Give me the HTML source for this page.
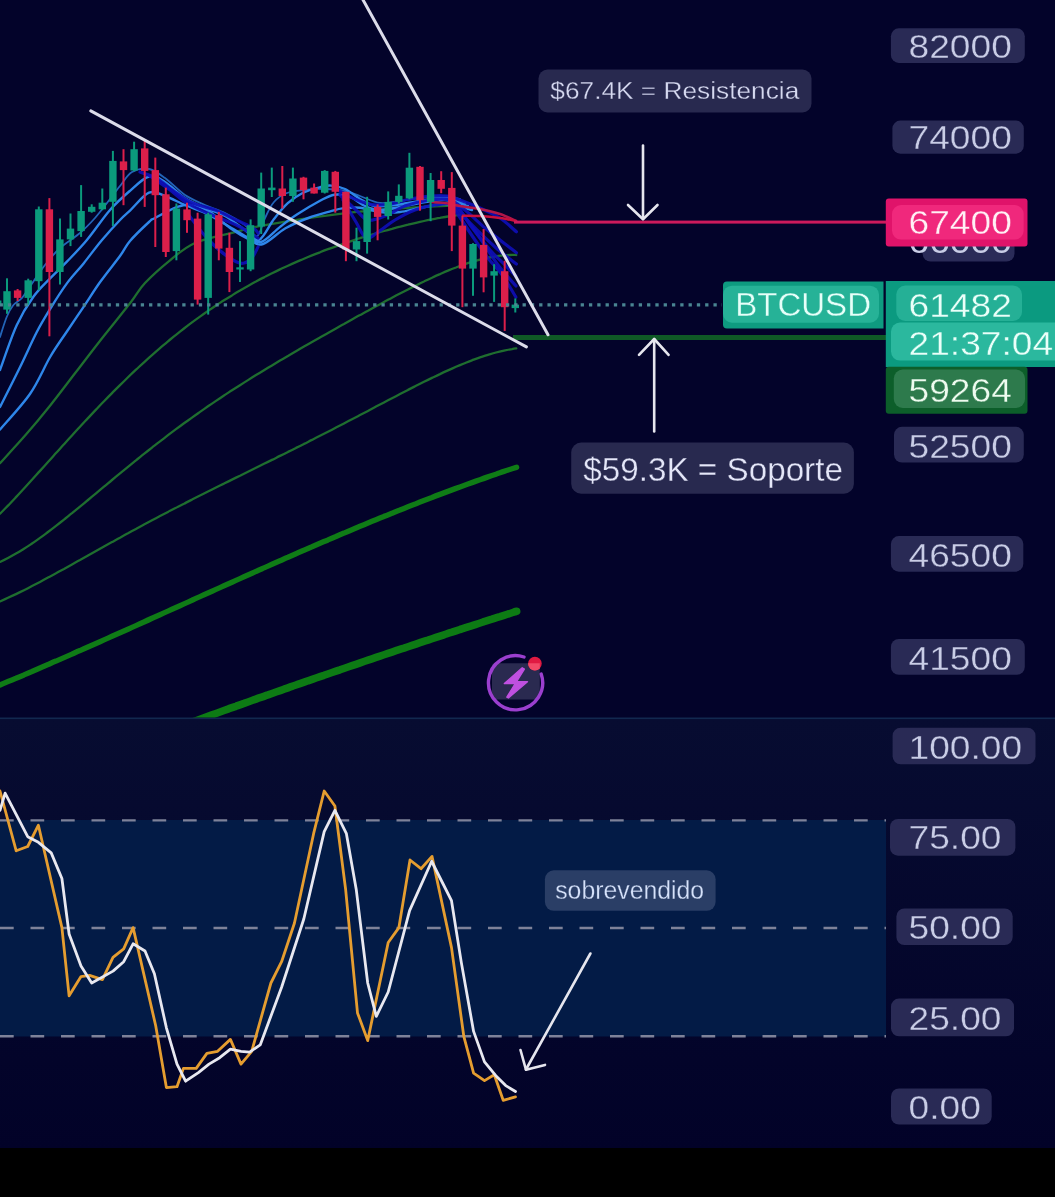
<!DOCTYPE html>
<html><head><meta charset="utf-8"><title>BTCUSD chart</title>
<style>
html,body{margin:0;padding:0;background:#03032a;}
body{width:1055px;height:1197px;overflow:hidden;}
svg{display:block;filter:blur(0.45px);font-family:"Liberation Sans","DejaVu Sans",sans-serif;}
</style></head><body>
<svg width="1055" height="1197" viewBox="0 0 1055 1197">
<rect x="0" y="0" width="1055" height="719" fill="#03032a"/>
<linearGradient id="og" x1="0" y1="0" x2="0" y2="1"><stop offset="0" stop-color="#070c31"/><stop offset="1" stop-color="#020228"/></linearGradient>
<rect x="0" y="719" width="1055" height="429" fill="url(#og)"/>
<rect x="0" y="820" width="886" height="216.5" fill="#031b46"/>
<rect x="0" y="1148" width="1055" height="49" fill="#000"/>
<rect x="0" y="717.5" width="1055" height="1.6" fill="#12284f"/>
<clipPath id="mc"><rect x="0" y="0" width="1055" height="717.5"/></clipPath>
<g clip-path="url(#mc)">
<path d="M188,723.6 C189.3,723.1 193.3,721.7 196,720.7 C198.7,719.7 201.3,718.8 204,717.8 C206.7,716.8 209.3,715.9 212,714.9 C214.7,713.9 217.3,713 220,712 C222.7,711 225.3,710.1 228,709.1 C230.7,708.2 233.3,707.2 236,706.3 C238.7,705.3 241.3,704.3 244,703.4 C246.7,702.4 249.3,701.5 252,700.5 C254.7,699.6 257.3,698.6 260,697.7 C262.7,696.8 265.3,695.8 268,694.9 C270.7,693.9 273.3,693 276,692 C278.7,691.1 281.3,690.2 284,689.2 C286.7,688.3 289.3,687.3 292,686.4 C294.7,685.5 297.3,684.5 300,683.6 C302.7,682.7 305.3,681.8 308,680.8 C310.7,679.9 313.3,679 316,678 C318.7,677.1 321.3,676.2 324,675.3 C326.7,674.3 329.3,673.4 332,672.5 C334.7,671.6 337.3,670.7 340,669.8 C342.7,668.8 345.3,667.9 348,667 C350.7,666.1 353.3,665.2 356,664.3 C358.7,663.4 361.3,662.5 364,661.5 C366.7,660.6 369.3,659.7 372,658.8 C374.7,657.9 377.3,657 380,656.1 C382.7,655.2 385.3,654.3 388,653.4 C390.7,652.5 393.3,651.6 396,650.7 C398.7,649.8 401.3,648.9 404,648.1 C406.7,647.2 409.3,646.3 412,645.4 C414.7,644.5 417.3,643.6 420,642.7 C422.7,641.8 425.3,640.9 428,640.1 C430.7,639.2 433.3,638.3 436,637.4 C438.7,636.5 441.3,635.7 444,634.8 C446.7,633.9 449.3,633 452,632.2 C454.7,631.3 457.3,630.4 460,629.5 C462.7,628.7 465.3,627.8 468,626.9 C470.7,626.1 473.3,625.2 476,624.3 C478.7,623.5 481.3,622.6 484,621.7 C486.7,620.9 489.3,620 492,619.2 C494.7,618.3 497.3,617.4 500,616.6 C502.7,615.7 505.3,614.9 508,614 C510.7,613.2 514.6,611.9 516,611.5 C517.4,611 516.5,611.3 516.6,611.3" fill="none" stroke="#0d7b14" stroke-width="7.6" stroke-linecap="round" stroke-linejoin="round" />
<path d="M0,685 C1.3,684.4 5.3,682.7 8,681.6 C10.7,680.5 13.3,679.4 16,678.3 C18.7,677.1 21.3,676 24,674.9 C26.7,673.7 29.3,672.6 32,671.5 C34.7,670.3 37.3,669.2 40,668 C42.7,666.9 45.3,665.7 48,664.6 C50.7,663.4 53.3,662.2 56,661.1 C58.7,659.9 61.3,658.8 64,657.6 C66.7,656.4 69.3,655.3 72,654.1 C74.7,652.9 77.3,651.7 80,650.6 C82.7,649.4 85.3,648.2 88,647 C90.7,645.8 93.3,644.7 96,643.5 C98.7,642.3 101.3,641.1 104,639.9 C106.7,638.7 109.3,637.5 112,636.3 C114.7,635.1 117.3,634 120,632.8 C122.7,631.6 125.3,630.4 128,629.2 C130.7,628 133.3,626.8 136,625.6 C138.7,624.4 141.3,623.2 144,622 C146.7,620.8 149.3,619.6 152,618.3 C154.7,617.1 157.3,615.9 160,614.7 C162.7,613.5 165.3,612.3 168,611.1 C170.7,609.9 173.3,608.7 176,607.5 C178.7,606.3 181.3,605.1 184,603.9 C186.7,602.7 189.3,601.5 192,600.3 C194.7,599 197.3,597.8 200,596.6 C202.7,595.4 205.3,594.2 208,593 C210.7,591.8 213.3,590.6 216,589.4 C218.7,588.2 221.3,587 224,585.8 C226.7,584.6 229.3,583.4 232,582.2 C234.7,581 237.3,579.8 240,578.6 C242.7,577.4 245.3,576.2 248,575 C250.7,573.8 253.3,572.6 256,571.4 C258.7,570.3 261.3,569.1 264,567.9 C266.7,566.7 269.3,565.5 272,564.3 C274.7,563.1 277.3,562 280,560.8 C282.7,559.6 285.3,558.4 288,557.3 C290.7,556.1 293.3,554.9 296,553.7 C298.7,552.6 301.3,551.4 304,550.2 C306.7,549.1 309.3,547.9 312,546.8 C314.7,545.6 317.3,544.5 320,543.3 C322.7,542.2 325.3,541 328,539.9 C330.7,538.7 333.3,537.6 336,536.5 C338.7,535.3 341.3,534.2 344,533.1 C346.7,531.9 349.3,530.8 352,529.7 C354.7,528.6 357.3,527.4 360,526.3 C362.7,525.2 365.3,524.1 368,523 C370.7,521.9 373.3,520.8 376,519.7 C378.7,518.6 381.3,517.5 384,516.4 C386.7,515.4 389.3,514.3 392,513.2 C394.7,512.1 397.3,511 400,510 C402.7,508.9 405.3,507.9 408,506.8 C410.7,505.7 413.3,504.7 416,503.7 C418.7,502.6 421.3,501.6 424,500.5 C426.7,499.5 429.3,498.5 432,497.5 C434.7,496.4 437.3,495.4 440,494.4 C442.7,493.4 445.3,492.4 448,491.4 C450.7,490.4 453.3,489.4 456,488.4 C458.7,487.4 461.3,486.5 464,485.5 C466.7,484.5 469.3,483.6 472,482.6 C474.7,481.6 477.3,480.7 480,479.7 C482.7,478.8 485.3,477.9 488,476.9 C490.7,476 493.3,475.1 496,474.2 C498.7,473.3 501.3,472.3 504,471.4 C506.7,470.5 509.9,469.5 512,468.8 C514.1,468.1 515.8,467.5 516.6,467.3" fill="none" stroke="#0f7c16" stroke-width="5.4" stroke-linecap="round" stroke-linejoin="round" />
<path d="M0,601.4 C1.3,600.8 5.3,599 8,597.8 C10.7,596.6 13.3,595.4 16,594.1 C18.7,592.8 21.3,591.5 24,590.2 C26.7,588.8 29.3,587.5 32,586.1 C34.7,584.7 37.3,583.3 40,581.9 C42.7,580.5 45.3,579.1 48,577.6 C50.7,576.2 53.3,574.7 56,573.3 C58.7,571.8 61.3,570.3 64,568.9 C66.7,567.4 69.3,565.9 72,564.4 C74.7,562.9 77.3,561.4 80,560 C82.7,558.5 85.3,557 88,555.5 C90.7,554 93.3,552.5 96,551 C98.7,549.5 101.3,548 104,546.5 C106.7,545 109.3,543.6 112,542.1 C114.7,540.6 117.3,539.1 120,537.7 C122.7,536.2 125.3,534.7 128,533.3 C130.7,531.8 133.3,530.4 136,528.9 C138.7,527.5 141.3,526 144,524.6 C146.7,523.2 149.3,521.8 152,520.3 C154.7,518.9 157.3,517.5 160,516.1 C162.7,514.7 165.3,513.3 168,511.9 C170.7,510.5 173.3,509.1 176,507.8 C178.7,506.4 181.3,505 184,503.7 C186.7,502.3 189.3,500.9 192,499.6 C194.7,498.2 197.3,496.9 200,495.5 C202.7,494.2 205.3,492.9 208,491.5 C210.7,490.2 213.3,488.9 216,487.5 C218.7,486.2 221.3,484.9 224,483.6 C226.7,482.2 229.3,480.9 232,479.6 C234.7,478.3 237.3,477 240,475.7 C242.7,474.3 245.3,473 248,471.7 C250.7,470.4 253.3,469.1 256,467.8 C258.7,466.5 261.3,465.2 264,463.8 C266.7,462.5 269.3,461.2 272,459.9 C274.7,458.6 277.3,457.2 280,455.9 C282.7,454.6 285.3,453.3 288,451.9 C290.7,450.6 293.3,449.3 296,447.9 C298.7,446.6 301.3,445.3 304,443.9 C306.7,442.6 309.3,441.2 312,439.9 C314.7,438.5 317.3,437.2 320,435.8 C322.7,434.4 325.3,433.1 328,431.7 C330.7,430.3 333.3,429 336,427.6 C338.7,426.2 341.3,424.8 344,423.4 C346.7,422 349.3,420.6 352,419.2 C354.7,417.9 357.3,416.5 360,415.1 C362.7,413.7 365.3,412.3 368,410.9 C370.7,409.5 373.3,408 376,406.6 C378.7,405.2 381.3,403.8 384,402.4 C386.7,401 389.3,399.6 392,398.2 C394.7,396.8 397.3,395.5 400,394.1 C402.7,392.7 405.3,391.3 408,389.9 C410.7,388.6 413.3,387.2 416,385.8 C418.7,384.5 421.3,383.2 424,381.8 C426.7,380.5 429.3,379.2 432,377.9 C434.7,376.6 437.3,375.3 440,374.1 C442.7,372.8 445.3,371.6 448,370.4 C450.7,369.2 453.3,368 456,366.8 C458.7,365.7 461.3,364.6 464,363.5 C466.7,362.4 469.3,361.3 472,360.3 C474.7,359.3 477.3,358.3 480,357.4 C482.7,356.5 485.3,355.6 488,354.8 C490.7,354 493.3,353.2 496,352.5 C498.7,351.8 501.3,351.2 504,350.6 C506.7,350 509.9,349.4 512,349.1 C514,348.7 515.6,348.5 516.3,348.4" fill="none" stroke="#1f6e2f" stroke-width="2.3" stroke-linecap="round" stroke-linejoin="round" />
<path d="M0,561.9 C1.3,561.3 5.3,559.4 8,558 C10.7,556.6 13.3,555.2 16,553.6 C18.7,552.1 21.3,550.4 24,548.7 C26.7,547.1 29.3,545.3 32,543.5 C34.7,541.7 37.3,539.8 40,537.9 C42.7,536 45.3,534 48,532 C50.7,530 53.3,528 56,525.9 C58.7,523.8 61.3,521.7 64,519.6 C66.7,517.5 69.3,515.3 72,513.2 C74.7,511 77.3,508.8 80,506.6 C82.7,504.4 85.3,502.2 88,500 C90.7,497.8 93.3,495.6 96,493.4 C98.7,491.1 101.3,488.9 104,486.7 C106.7,484.5 109.3,482.2 112,480 C114.7,477.8 117.3,475.6 120,473.4 C122.7,471.2 125.3,469 128,466.8 C130.7,464.7 133.3,462.5 136,460.3 C138.7,458.2 141.3,456 144,453.9 C146.7,451.8 149.3,449.7 152,447.6 C154.7,445.5 157.3,443.4 160,441.4 C162.7,439.3 165.3,437.3 168,435.2 C170.7,433.2 173.3,431.2 176,429.2 C178.7,427.2 181.3,425.3 184,423.3 C186.7,421.4 189.3,419.5 192,417.6 C194.7,415.6 197.3,413.8 200,411.9 C202.7,410 205.3,408.2 208,406.3 C210.7,404.5 213.3,402.7 216,400.9 C218.7,399.1 221.3,397.3 224,395.5 C226.7,393.8 229.3,392 232,390.3 C234.7,388.6 237.3,386.9 240,385.2 C242.7,383.5 245.3,381.8 248,380.1 C250.7,378.4 253.3,376.8 256,375.1 C258.7,373.5 261.3,371.9 264,370.2 C266.7,368.6 269.3,367 272,365.4 C274.7,363.8 277.3,362.2 280,360.6 C282.7,359.1 285.3,357.5 288,355.9 C290.7,354.4 293.3,352.8 296,351.2 C298.7,349.7 301.3,348.2 304,346.6 C306.7,345.1 309.3,343.6 312,342 C314.7,340.5 317.3,339 320,337.5 C322.7,336 325.3,334.4 328,332.9 C330.7,331.4 333.3,329.9 336,328.4 C338.7,326.9 341.3,325.4 344,324 C346.7,322.5 349.3,321 352,319.5 C354.7,318 357.3,316.5 360,315.1 C362.7,313.6 365.3,312.1 368,310.7 C370.7,309.2 373.3,307.8 376,306.3 C378.7,304.9 381.3,303.4 384,302 C386.7,300.6 389.3,299.1 392,297.7 C394.7,296.3 397.3,294.9 400,293.5 C402.7,292.1 405.3,290.8 408,289.4 C410.7,288 413.3,286.7 416,285.4 C418.7,284 421.3,282.7 424,281.5 C426.7,280.2 429.3,278.9 432,277.7 C434.7,276.4 437.3,275.2 440,274.1 C442.7,272.9 445.3,271.7 448,270.6 C450.7,269.5 453.3,268.5 456,267.5 C458.7,266.4 461.3,265.4 464,264.5 C466.7,263.6 469.3,262.7 472,261.9 C474.7,261.1 477.3,260.3 480,259.6 C482.7,258.9 485.3,258.3 488,257.7 C490.7,257.2 493.3,256.7 496,256.3 C498.7,255.9 501.3,255.5 504,255.3 C506.7,255.1 509.9,255 512,254.9 C514,254.9 515.6,255 516.3,255" fill="none" stroke="#1f6e2f" stroke-width="2.3" stroke-linecap="round" stroke-linejoin="round" />
<path d="M0,513.8 C1.3,512.5 5.3,508.4 8,505.6 C10.7,502.8 13.3,500 16,497.1 C18.7,494.3 21.3,491.4 24,488.5 C26.7,485.6 29.3,482.7 32,479.7 C34.7,476.8 37.3,473.8 40,470.9 C42.7,467.9 45.3,465 48,462 C50.7,459.1 53.3,456.1 56,453.1 C58.7,450.2 61.3,447.2 64,444.3 C66.7,441.3 69.3,438.4 72,435.5 C74.7,432.6 77.3,429.6 80,426.7 C82.7,423.9 85.3,421 88,418.1 C90.7,415.3 93.3,412.4 96,409.6 C98.7,406.8 101.3,404 104,401.3 C106.7,398.5 109.3,395.8 112,393.1 C114.7,390.4 117.3,387.7 120,385.1 C122.7,382.5 125.3,379.9 128,377.3 C130.7,374.7 133.3,372.2 136,369.7 C138.7,367.2 141.3,364.7 144,362.3 C146.7,359.8 149.3,357.4 152,355.1 C154.7,352.7 157.3,350.4 160,348.1 C162.7,345.8 165.3,343.5 168,341.3 C170.7,339.1 173.3,336.9 176,334.8 C178.7,332.7 181.3,330.6 184,328.5 C186.7,326.4 189.3,324.4 192,322.4 C194.7,320.4 197.3,318.5 200,316.6 C202.7,314.7 205.3,312.8 208,310.9 C210.7,309.1 213.3,307.3 216,305.5 C218.7,303.8 221.3,302 224,300.3 C226.7,298.6 229.3,297 232,295.4 C234.7,293.7 237.3,292.1 240,290.6 C242.7,289 245.3,287.5 248,286 C250.7,284.5 253.3,283 256,281.6 C258.7,280.1 261.3,278.7 264,277.4 C266.7,276 269.3,274.6 272,273.3 C274.7,272 277.3,270.7 280,269.4 C282.7,268.2 285.3,266.9 288,265.7 C290.7,264.5 293.3,263.3 296,262.1 C298.7,261 301.3,259.8 304,258.7 C306.7,257.6 309.3,256.5 312,255.4 C314.7,254.3 317.3,253.3 320,252.3 C322.7,251.2 325.3,250.2 328,249.2 C330.7,248.2 333.3,247.2 336,246.3 C338.7,245.3 341.3,244.4 344,243.5 C346.7,242.6 349.3,241.7 352,240.8 C354.7,239.9 357.3,239 360,238.2 C362.7,237.3 365.3,236.5 368,235.7 C370.7,234.9 373.3,234.1 376,233.3 C378.7,232.5 381.3,231.7 384,231 C386.7,230.2 389.3,229.5 392,228.8 C394.7,228 397.3,227.3 400,226.7 C402.7,226 405.3,225.3 408,224.7 C410.7,224 413.3,223.4 416,222.8 C418.7,222.2 421.3,221.6 424,221 C426.7,220.4 429.3,219.9 432,219.4 C434.7,218.9 437.3,218.3 440,217.9 C442.7,217.4 445.3,216.9 448,216.5 C450.7,216.1 454,215.6 456,215.3 C458,215.1 459.3,214.9 460,214.8" fill="none" stroke="#1f6e2f" stroke-width="2.3" stroke-linecap="round" stroke-linejoin="round" />
<path d="M0,463.2 C4.2,458.6 16.7,445.2 25.1,435.6 C33.5,426 41.8,416 50.2,405.5 C58.6,395 67,383.7 75.4,372.8 C83.8,361.9 91.3,351.9 100.5,340.2 C109.7,328.5 123.2,312 130.6,302.5 C138,293 138.4,290 145,283 C151.6,276 161.7,267 170,260.3 C178.3,253.6 184.5,247.6 195,243 C205.5,238.4 221.3,235.7 233,232.7 C244.7,229.7 247.2,228.2 265,225.1 C282.8,221.9 317.5,216.6 340,213.8 C362.5,211 382.2,209.6 400,208.3 C417.8,207 437.3,206.2 447,205.9 C456.7,205.6 456.2,206.4 458,206.5" fill="none" stroke="#1f6e2f" stroke-width="2.3" stroke-linecap="round" stroke-linejoin="round" />
<path d="M0,337 C1.1,333.7 4.5,322.3 6.7,317 C8.9,311.7 10.8,308.2 13.4,305 C16,301.8 19.1,301.3 22,298 C24.9,294.7 26.9,290.9 30.7,285.4 C34.5,279.9 40.1,271.2 45,265 C49.9,258.8 54.2,253.3 60,248 C65.8,242.7 74.2,238 80,233 C85.8,228 90.5,223 95,218 C99.5,213 102.8,208.3 107,203 C111.2,197.7 115.8,191.2 120,186 C124.2,180.8 127.2,174.8 132,172 C136.8,169.2 143.5,168 149,169 C154.5,170 159,173.7 165,178 C171,182.3 178.3,190.5 185,195 C191.7,199.5 198.3,202 205,205 C211.7,208 218.3,209.7 225,213 C231.7,216.3 239.7,221.2 245,225 C250.3,228.8 253.7,237.2 257,236 C260.3,234.8 262.2,223.7 265,218 C267.8,212.3 270.3,206.2 274,202 C277.7,197.8 281.8,195 287,193 C292.2,191 298.7,190.7 305,190 C311.3,189.3 318.3,188.8 325,189 C331.7,189.2 339.2,189.8 345,191 C350.8,192.2 354.2,194 360,196 C365.8,198 373.3,202.2 380,203 C386.7,203.8 393.3,201.8 400,201 C406.7,200.2 412.5,198.8 420,198 C427.5,197.2 438.3,195.8 445,196 C451.7,196.2 457.5,198.5 460,199" fill="none" stroke="#2e86ea" stroke-width="1.8" stroke-linecap="round" stroke-linejoin="round" opacity="0.75"/>
<path d="M0,429.5 C5,423.5 21.8,405.8 30.1,393.7 C38.5,381.6 44,367.4 50.1,357 C56.2,346.6 61.3,339.9 66.9,331.5 C72.5,323.1 78,315.1 83.6,306.8 C89.2,298.5 94.2,290.3 100.3,281.8 C106.4,273.3 115,262.8 120,256 C125,249.2 125.2,246.7 130,241 C134.8,235.3 144.9,225.8 149,222 C153.1,218.2 149.9,220.7 154.6,218.2 C159.3,215.7 171.1,209.1 177.4,206.9 C183.7,204.7 187.2,204.2 192.6,205 C198,205.8 203.8,208.2 210,212 C216.2,215.8 223.3,223.3 230,228 C236.7,232.7 244.5,237.3 250,240 C255.5,242.7 257.1,245.9 263,244 C268.9,242.1 277.9,232.6 285.5,228.3 C293.1,224 300.7,220.8 308.3,218 C315.9,215.2 325.3,212.8 331,211.2 C336.7,209.6 337.6,209 342.4,208.4 C347.2,207.8 353.7,207.2 360,207.8 C366.3,208.4 373.3,211.3 380,212 C386.7,212.7 393.3,212.7 400,212 C406.7,211.3 412.5,209.3 420,208 C427.5,206.7 436.3,203.7 445,204 C453.7,204.3 467.5,209 472,210" fill="none" stroke="#2e86ea" stroke-width="2.4" stroke-linecap="round" stroke-linejoin="round" />
<path d="M0,407 C3.4,400.3 14,379.5 20.1,367 C26.2,354.5 31.8,341.7 36.8,332 C41.8,322.3 45.1,317.1 50.1,309 C55.1,300.9 61.3,291 66.9,283.4 C72.5,275.8 77.8,270.6 83.6,263.4 C89.4,256.2 95.9,247.2 102,240 C108.1,232.8 115.3,224.9 120,220 C124.7,215.1 125.2,215.2 130,210.7 C134.8,206.1 143.2,195.1 149,192.7 C154.8,190.2 159,193.9 165,196 C171,198.1 178.3,202.2 185,205 C191.7,207.8 198.3,209.8 205,213 C211.7,216.2 218.3,220.2 225,224 C231.7,227.8 239,233 245,236 C251,239 255.2,243.5 261,242 C266.8,240.5 273.8,231.7 279.8,227.1 C285.8,222.5 290.3,218.9 296.9,214.6 C303.5,210.2 313.4,204.3 319.6,201 C325.9,197.7 329.3,195.4 334.4,194.7 C339.5,194 344.9,195.1 350,197 C355.1,198.9 360,203.8 365,206 C370,208.2 374.2,209.8 380,210 C385.8,210.2 393.3,208.2 400,207 C406.7,205.8 412.5,204.2 420,203 C427.5,201.8 437,199.5 445,200 C453,200.5 464.2,205 468,206" fill="none" stroke="#2e86ea" stroke-width="2.4" stroke-linecap="round" stroke-linejoin="round" />
<path d="M0,370 C2.8,362.5 11.1,337.4 16.7,325.2 C22.3,313 27.8,304.6 33.4,296.8 C39,289 44.5,284.2 50.1,278.4 C55.7,272.5 60.8,268.1 66.9,261.7 C73,255.3 79.7,248.6 86.9,240 C94.1,231.4 102.8,218.2 110,210 C117.2,201.8 123.5,196.4 130,190.8 C136.5,185.2 143.2,178 149,176.5 C154.8,175 159,178.4 165,182 C171,185.6 178.3,193.7 185,198 C191.7,202.3 198.3,205 205,208 C211.7,211 218.3,212.3 225,216 C231.7,219.7 239.3,226 245,230 C250.7,234 254.2,241.8 259,240 C263.8,238.2 269.2,225.1 274,219 C278.8,212.9 283,207.5 287.8,203.2 C292.6,198.9 297.3,195.7 302.6,193 C307.9,190.3 314.9,188.5 319.6,187.3 C324.3,186.1 326.8,185.3 331,185.6 C335.2,185.9 340.2,186.8 345,189 C349.8,191.2 355,196.2 360,199 C365,201.8 369.2,205 375,206 C380.8,207 387.5,205.8 395,205 C402.5,204.2 411.7,202.2 420,201 C428.3,199.8 437.5,197.7 445,198 C452.5,198.3 461.7,202.2 465,203" fill="none" stroke="#2e86ea" stroke-width="2.4" stroke-linecap="round" stroke-linejoin="round" />
<path d="M140,172 C142.8,173.1 150.7,175.1 156.5,178.4 C162.3,181.7 169,187.9 175,192 C181,196.1 185.9,200 192.6,203 C199.3,206 208,207.2 215.3,210 C222.6,212.8 229.9,217 236.2,220 C242.5,223 249.6,225.8 253.2,228 C256.8,230.2 257.2,232.2 258,233" fill="none" stroke="#0e0eb8" stroke-width="3.2" stroke-linecap="round" stroke-linejoin="round" opacity="0.9"/>
<path d="M150,176 C153.3,178.3 163.8,185.5 170,190 C176.2,194.5 180.3,199 186.9,203 C193.5,207 201.4,210.3 209.6,214 C217.8,217.7 229.1,221.7 236.2,225 C243.3,228.3 248.4,231.8 252,234 C255.6,236.2 257,237.3 258,238" fill="none" stroke="#0e0eb8" stroke-width="3.2" stroke-linecap="round" stroke-linejoin="round" opacity="0.9"/>
<path d="M186.9,212.6 C190.7,217.3 201.4,232.8 209.6,241 C217.8,249.2 229.5,258.6 236.2,261.8 C242.9,265 246.4,262.5 250,260 C253.6,257.5 256.7,249.2 258,247" fill="none" stroke="#0e0eb8" stroke-width="3.2" stroke-linecap="round" stroke-linejoin="round" opacity="0.9"/>
<path d="M338,190 C341,191.6 350.3,197.1 356,199.5 C361.7,201.9 366.3,203.8 372,204.6 C377.7,205.3 383.7,204.9 390,204 C396.3,203.1 403.3,200.3 410,199 C416.7,197.7 423.7,196.5 430,196 C436.3,195.5 443,195.3 448,196 C453,196.7 454.7,198 460,200 C465.3,202 473.3,205 480,208 C486.7,211 493.9,214 500,218 C506.1,222 513.7,229.5 516.4,231.8" fill="none" stroke="#0e0eb8" stroke-width="3.2" stroke-linecap="round" stroke-linejoin="round" opacity="0.9"/>
<path d="M340,195 C342.7,197.5 351.3,205.8 356,210 C360.7,214.2 363.2,219 368,220 C372.8,221 378.8,218.3 385,216 C391.2,213.7 397.5,208.7 405,206 C412.5,203.3 422.5,201 430,200 C437.5,199 444.2,198.3 450,200 C455.8,201.7 459.2,205.3 465,210 C470.8,214.7 479.2,223 485,228 C490.8,233 494.8,235.9 500,240 C505.2,244.1 513.7,250.6 516.4,252.7" fill="none" stroke="#0e0eb8" stroke-width="3.2" stroke-linecap="round" stroke-linejoin="round" opacity="0.9"/>
<path d="M343,200 C345.2,203.7 352.2,215.7 356,222 C359.8,228.3 362.3,236.3 366,238 C369.7,239.7 373.2,235 378,232 C382.8,229 388.8,223.7 395,220 C401.2,216.3 408.3,212.5 415,210 C421.7,207.5 428.3,205.8 435,205 C441.7,204.2 449.2,201.7 455,205 C460.8,208.3 464.2,217.5 470,225 C475.8,232.5 484.2,243.3 490,250 C495.8,256.7 500.7,260.6 505,265 C509.3,269.4 514,274.2 515.8,276.1" fill="none" stroke="#0e0eb8" stroke-width="3.2" stroke-linecap="round" stroke-linejoin="round" opacity="0.9"/>
<path d="M455,210 C458.3,215 469.4,231.8 475,240 C480.6,248.2 484.5,253.6 488.7,258.9 C492.9,264.2 496.8,267.8 500,272 C503.2,276.2 505.4,279.8 508,284 C510.6,288.2 514.5,294.8 515.8,297" fill="none" stroke="#0e0eb8" stroke-width="3.2" stroke-linecap="round" stroke-linejoin="round" opacity="0.9"/>
<path d="M452,205 C455.8,208.8 467.8,221 475,228 C482.2,235 488.1,241 495,247 C501.9,253 512.8,261.2 516.4,264" fill="none" stroke="#0e0eb8" stroke-width="3.2" stroke-linecap="round" stroke-linejoin="round" opacity="0.9"/>
<path d="M460,210 C463.3,214.7 473.7,228.8 480,238 C486.3,247.2 492,257 498,265 C504,273 513,282.5 516,286" fill="none" stroke="#0e0eb8" stroke-width="3.2" stroke-linecap="round" stroke-linejoin="round" opacity="0.9"/>
<path d="M430,202 C432.5,202.2 440,202.3 445,203 C450,203.7 454.2,205 460,206 C465.8,207 473.3,207.7 480,209 C486.7,210.3 494,212 500,214 C506,216 513.3,219.8 516,221" fill="none" stroke="#b0164a" stroke-width="2.6" stroke-linecap="round" stroke-linejoin="round" />
<path d="M462.8,215.7 C465.7,215.8 473.8,215.6 480,216 C486.2,216.4 494,217.2 500,218 C506,218.8 513.3,220.5 516,221" fill="none" stroke="#c8103c" stroke-width="2.4" stroke-linecap="round" stroke-linejoin="round" />
<rect x="-2" y="297" width="2" height="14" fill="#0b9a7c"/><rect x="-6" y="300.5" width="7.4" height="3.5" fill="#0b9a7c"/>
<rect x="6" y="278.3" width="2" height="35.5" fill="#0b9a7c"/>
<rect x="3.3" y="291.2" width="7.4" height="18.4" fill="#0b9a7c"/>
<rect x="16.6" y="289" width="2" height="12" fill="#dc1f4a"/>
<rect x="13.9" y="290.4" width="7.4" height="7.5" fill="#dc1f4a"/>
<rect x="27.2" y="278.7" width="2" height="25.9" fill="#0b9a7c"/>
<rect x="24.5" y="280.3" width="7.4" height="17.6" fill="#0b9a7c"/>
<rect x="37.8" y="206.5" width="2" height="83.9" fill="#0b9a7c"/>
<rect x="35.1" y="209.3" width="7.4" height="71.9" fill="#0b9a7c"/>
<rect x="48.4" y="198.1" width="2" height="138.2" fill="#dc1f4a"/>
<rect x="45.7" y="209.3" width="7.4" height="62.7" fill="#dc1f4a"/>
<rect x="59" y="218.5" width="2" height="66" fill="#0b9a7c"/>
<rect x="56.2" y="239.4" width="7.4" height="32.6" fill="#0b9a7c"/>
<rect x="69.5" y="213.5" width="2" height="32.6" fill="#0b9a7c"/>
<rect x="66.8" y="228.6" width="7.4" height="10.8" fill="#0b9a7c"/>
<rect x="80.1" y="185.1" width="2" height="51.8" fill="#0b9a7c"/>
<rect x="77.4" y="211" width="7.4" height="20.1" fill="#0b9a7c"/>
<rect x="90.7" y="204.3" width="2" height="8.4" fill="#0b9a7c"/>
<rect x="88" y="206.8" width="7.4" height="5" fill="#0b9a7c"/>
<rect x="101.3" y="188.5" width="2" height="21.7" fill="#0b9a7c"/>
<rect x="98.6" y="202.7" width="7.4" height="6.6" fill="#0b9a7c"/>
<rect x="111.9" y="150.9" width="2" height="75.1" fill="#0b9a7c"/>
<rect x="109.2" y="160.9" width="7.4" height="40.9" fill="#0b9a7c"/>
<rect x="122.5" y="149.2" width="2" height="56" fill="#dc1f4a"/>
<rect x="119.8" y="161.4" width="7.4" height="8.7" fill="#dc1f4a"/>
<rect x="133.1" y="141.7" width="2" height="29.6" fill="#0b9a7c"/>
<rect x="130.4" y="149.2" width="7.4" height="21.3" fill="#0b9a7c"/>
<rect x="143.7" y="140.9" width="2" height="66" fill="#dc1f4a"/>
<rect x="141" y="148.4" width="7.4" height="22.5" fill="#dc1f4a"/>
<rect x="154.3" y="157.6" width="2" height="89.4" fill="#dc1f4a"/>
<rect x="151.6" y="170.1" width="7.4" height="25.1" fill="#dc1f4a"/>
<rect x="164.8" y="187.6" width="2" height="69.4" fill="#dc1f4a"/>
<rect x="162.2" y="194.3" width="7.4" height="57.7" fill="#dc1f4a"/>
<rect x="175.4" y="203.5" width="2" height="56.8" fill="#0b9a7c"/>
<rect x="172.7" y="208.5" width="7.4" height="42.6" fill="#0b9a7c"/>
<rect x="186" y="202.7" width="2" height="30.1" fill="#dc1f4a"/>
<rect x="183.3" y="209.4" width="7.4" height="10.8" fill="#dc1f4a"/>
<rect x="196.6" y="212.7" width="2" height="91.9" fill="#dc1f4a"/>
<rect x="193.9" y="218.6" width="7.4" height="81" fill="#dc1f4a"/>
<rect x="207.2" y="212.7" width="2" height="101.9" fill="#0b9a7c"/>
<rect x="204.5" y="214.4" width="7.4" height="83.5" fill="#0b9a7c"/>
<rect x="217.8" y="211.9" width="2" height="48.4" fill="#dc1f4a"/>
<rect x="215.1" y="215.2" width="7.4" height="33.4" fill="#dc1f4a"/>
<rect x="228.4" y="232.8" width="2" height="59.3" fill="#dc1f4a"/>
<rect x="225.7" y="247.8" width="7.4" height="24.2" fill="#dc1f4a"/>
<rect x="239" y="241.1" width="2" height="40.9" fill="#0b9a7c"/>
<rect x="236.3" y="267.3" width="7.4" height="2.2" fill="#0b9a7c"/>
<rect x="249.6" y="219.4" width="2" height="51.8" fill="#0b9a7c"/>
<rect x="246.9" y="225.2" width="7.4" height="44.3" fill="#0b9a7c"/>
<rect x="260.2" y="172.6" width="2" height="61.4" fill="#0b9a7c"/>
<rect x="257.5" y="188.5" width="7.4" height="38" fill="#0b9a7c"/>
<rect x="270.8" y="167.6" width="2" height="29.4" fill="#0b9a7c"/>
<rect x="268.1" y="187.6" width="7.4" height="2.6" fill="#0b9a7c"/>
<rect x="281.3" y="166" width="2" height="42.5" fill="#dc1f4a"/>
<rect x="278.6" y="188.5" width="7.4" height="7.5" fill="#dc1f4a"/>
<rect x="291.9" y="167.6" width="2" height="34.2" fill="#0b9a7c"/>
<rect x="289.2" y="178.5" width="7.4" height="17.5" fill="#0b9a7c"/>
<rect x="302.5" y="176.8" width="2" height="22.5" fill="#dc1f4a"/>
<rect x="299.8" y="177.6" width="7.4" height="12.6" fill="#dc1f4a"/>
<rect x="313.1" y="183.5" width="2" height="10" fill="#dc1f4a"/>
<rect x="310.4" y="187.6" width="7.4" height="5.9" fill="#dc1f4a"/>
<rect x="323.7" y="170.1" width="2" height="23.4" fill="#0b9a7c"/>
<rect x="321" y="170.9" width="7.4" height="21.8" fill="#0b9a7c"/>
<rect x="334.3" y="170.9" width="2" height="41.8" fill="#dc1f4a"/>
<rect x="331.6" y="171.8" width="7.4" height="20" fill="#dc1f4a"/>
<rect x="344.9" y="191.8" width="2" height="69.4" fill="#dc1f4a"/>
<rect x="342.2" y="191.8" width="7.4" height="57.7" fill="#dc1f4a"/>
<rect x="355.5" y="227.7" width="2" height="33.5" fill="#0b9a7c"/>
<rect x="352.8" y="241.1" width="7.4" height="8.4" fill="#0b9a7c"/>
<rect x="366.1" y="196.8" width="2" height="56.8" fill="#0b9a7c"/>
<rect x="363.4" y="207.7" width="7.4" height="34.3" fill="#0b9a7c"/>
<rect x="376.6" y="204.4" width="2" height="35.9" fill="#dc1f4a"/>
<rect x="373.9" y="206.9" width="7.4" height="10" fill="#dc1f4a"/>
<rect x="387.2" y="191.4" width="2" height="28.1" fill="#0b9a7c"/>
<rect x="384.5" y="201.9" width="7.4" height="14.1" fill="#0b9a7c"/>
<rect x="397.8" y="184.4" width="2" height="19.3" fill="#0b9a7c"/>
<rect x="395.1" y="195.8" width="7.4" height="6.1" fill="#0b9a7c"/>
<rect x="408.4" y="152.8" width="2" height="46.5" fill="#0b9a7c"/>
<rect x="405.7" y="167.7" width="7.4" height="30.7" fill="#0b9a7c"/>
<rect x="419" y="166" width="2" height="44.7" fill="#dc1f4a"/>
<rect x="416.3" y="166.8" width="7.4" height="33.4" fill="#dc1f4a"/>
<rect x="429.6" y="173" width="2" height="48.2" fill="#0b9a7c"/>
<rect x="426.9" y="180" width="7.4" height="21.9" fill="#0b9a7c"/>
<rect x="440.2" y="171.2" width="2" height="22" fill="#dc1f4a"/>
<rect x="437.5" y="180" width="7.4" height="8.8" fill="#dc1f4a"/>
<rect x="450.8" y="172.1" width="2" height="79" fill="#dc1f4a"/>
<rect x="448.1" y="187.9" width="7.4" height="37.7" fill="#dc1f4a"/>
<rect x="461.4" y="216" width="2" height="91.2" fill="#dc1f4a"/>
<rect x="458.7" y="225.6" width="7.4" height="43" fill="#dc1f4a"/>
<rect x="472" y="243.2" width="2" height="52.6" fill="#0b9a7c"/>
<rect x="469.3" y="244" width="7.4" height="24.6" fill="#0b9a7c"/>
<rect x="482.6" y="229.1" width="2" height="63.2" fill="#dc1f4a"/>
<rect x="479.9" y="244.9" width="7.4" height="32.5" fill="#dc1f4a"/>
<rect x="493.1" y="264.2" width="2" height="37.7" fill="#0b9a7c"/>
<rect x="490.4" y="271.2" width="7.4" height="4.4" fill="#0b9a7c"/>
<rect x="503.7" y="260.7" width="2" height="70.2" fill="#dc1f4a"/>
<rect x="501" y="271.2" width="7.4" height="36" fill="#dc1f4a"/>
<rect x="514.3" y="298.4" width="2" height="14.1" fill="#0b9a7c"/>
<rect x="511.6" y="304.6" width="7.4" height="3.5" fill="#0b9a7c"/>
</g>
<rect x="514" y="220.6" width="372" height="3" fill="#cc1a5c"/>
<rect x="513" y="335" width="373" height="5" fill="#0f5a26"/>
<line x1="0" y1="304.8" x2="722" y2="304.8" stroke="#4a8592" stroke-width="3.2" stroke-dasharray="3.3 5" stroke-dashoffset="0.35"/>
<line x1="90.8" y1="110.9" x2="526.4" y2="346.9" stroke="#dcdcea" stroke-width="3" stroke-linecap="round"/>
<line x1="362" y1="-2" x2="548" y2="334.8" stroke="#dcdcea" stroke-width="3" stroke-linecap="round"/>
<g stroke="#e6e6ee" stroke-width="2.6" fill="none" stroke-linecap="round" stroke-linejoin="round"><line x1="643" y1="145.5" x2="643" y2="218.5"/><polyline points="628,205 643,219.3 657.5,205"/><line x1="654.2" y1="431.5" x2="654.2" y2="339.5"/><polyline points="639,354.8 654.2,339 668.6,354.8"/></g>
<rect x="538.5" y="69.5" width="273" height="43" rx="9" fill="#28294f"/>
<text transform="translate(550.3,99.2) scale(1.086,1)" font-size="24.2" fill="#d6d9f0" stroke="#28294f" stroke-width="0.3">$67.4K = Resistencia</text>
<rect x="571.2" y="442.5" width="282.7" height="51.3" rx="10" fill="#28294f"/>
<text transform="translate(583.3,480.5) scale(0.978,1)" font-size="34" fill="#e4e6f8" stroke="#28294f" stroke-width="0.35">$59.3K = Soporte</text>
<rect x="890.9" y="28.3" width="133.9" height="34.6" rx="8" fill="#292a55"/>
<text transform="translate(908.5,57.6) scale(1.09,1)" font-size="34.1" fill="#c9cde6" stroke="#292a55" stroke-width="0.35">82000</text>
<rect x="892.4" y="120.6" width="131.4" height="33.1" rx="8" fill="#292a55"/>
<text transform="translate(908.5,149.4) scale(1.09,1)" font-size="34.1" fill="#c9cde6" stroke="#292a55" stroke-width="0.35">74000</text>
<rect x="894" y="426.8" width="129.8" height="35.7" rx="8" fill="#292a55"/>
<text transform="translate(908.5,457.9) scale(1.09,1)" font-size="34.1" fill="#c9cde6" stroke="#292a55" stroke-width="0.35">52500</text>
<rect x="890.9" y="536.1" width="132.4" height="35.6" rx="8" fill="#292a55"/>
<text transform="translate(908.5,567.2) scale(1.09,1)" font-size="34.1" fill="#c9cde6" stroke="#292a55" stroke-width="0.35">46500</text>
<rect x="890.9" y="638.9" width="133.9" height="35.9" rx="8" fill="#292a55"/>
<text transform="translate(908.5,669.5) scale(1.09,1)" font-size="34.1" fill="#c9cde6" stroke="#292a55" stroke-width="0.35">41500</text>
<rect x="892.6" y="727.7" width="142.9" height="36.6" rx="8" fill="#292a55"/>
<text transform="translate(908.5,759.2) scale(1.09,1)" font-size="34.1" fill="#c9cde6" stroke="#292a55" stroke-width="0.35">100.00</text>
<rect x="890" y="819" width="125.4" height="36.7" rx="8" fill="#292a55"/>
<text transform="translate(908.5,849.4) scale(1.09,1)" font-size="34.1" fill="#c9cde6" stroke="#292a55" stroke-width="0.35">75.00</text>
<rect x="896.4" y="908.4" width="116.3" height="36.7" rx="8" fill="#292a55"/>
<text transform="translate(908.5,939.4) scale(1.09,1)" font-size="34.1" fill="#c9cde6" stroke="#292a55" stroke-width="0.35">50.00</text>
<rect x="891" y="998.6" width="123" height="37.7" rx="8" fill="#292a55"/>
<text transform="translate(908.5,1030) scale(1.09,1)" font-size="34.1" fill="#c9cde6" stroke="#292a55" stroke-width="0.35">25.00</text>
<rect x="891" y="1088.5" width="100.7" height="36" rx="8" fill="#292a55"/>
<text transform="translate(908.5,1119.2) scale(1.09,1)" font-size="34.1" fill="#c9cde6" stroke="#292a55" stroke-width="0.35">0.00</text>
<rect x="922.6" y="239" width="91.9" height="22.5" rx="8" fill="#2a2b58"/>
<clipPath id="hc"><rect x="880" y="200" width="150" height="70"/></clipPath>
<g clip-path="url(#hc)"><text transform="translate(908.5,253.2) scale(1.09,1)" font-size="34.1" fill="#c9cde6" >66000</text></g>
<rect x="885.8" y="198.6" width="141.7" height="48" rx="3" fill="#e0136a"/>
<rect x="892" y="205" width="131.7" height="34.6" rx="9" fill="#f0287c"/>
<text transform="translate(908.5,233.5) scale(1.09,1)" font-size="34.1" fill="#fff0f5" stroke="#f0287c" stroke-width="0.35">67400</text>
<path d="M727,281.4 H883.5 V328.4 H727 A4,4 0 0 1 723,324.4 V285.4 A4,4 0 0 1 727,281.4 Z" fill="#0e9b80"/>
<rect x="723" y="285.7" width="156" height="37" rx="9" fill="#26b297"/>
<text transform="translate(735.2,316.2) scale(0.995,1)" font-size="33.2" fill="#e6fff9" stroke="#26b297" stroke-width="0.35">BTCUSD</text>
<rect x="885.8" y="281" width="170" height="86" fill="#0b9a80"/>
<rect x="896.3" y="285.5" width="125.7" height="35.5" rx="9" fill="#25b096"/>
<rect x="891" y="322.5" width="174" height="38.1" rx="9" fill="#2bb89e"/>
<text transform="translate(908.5,316.5) scale(1.09,1)" font-size="34.1" fill="#eafff9" stroke="#25b096" stroke-width="0.35">61482</text>
<text transform="translate(908.5,354.9) scale(1.09,1)" font-size="34.1" fill="#eafff9" stroke="#2bb89e" stroke-width="0.35">21:37:04</text>
<rect x="885.8" y="366.7" width="141.7" height="47" rx="3" fill="#0c5e2a"/>
<rect x="893.8" y="369.6" width="131.2" height="38.4" rx="9" fill="#2d7a4c"/>
<text transform="translate(908.5,402) scale(1.09,1)" font-size="34.1" fill="#eefbef" stroke="#2d7a4c" stroke-width="0.35">59264</text>
<line x1="0" y1="820.4" x2="886" y2="820.4" stroke="#7e8299" stroke-width="2.4" stroke-dasharray="13.7 16.8"/>
<line x1="0" y1="928" x2="886" y2="928" stroke="#7e8299" stroke-width="2.4" stroke-dasharray="13.7 16.8"/>
<line x1="0" y1="1036.3" x2="886" y2="1036.3" stroke="#7e8299" stroke-width="2.4" stroke-dasharray="13.7 16.8"/>
<polyline points="0,791 16.2,850.8 27.7,846.5 38.4,825.2 61.9,927.6 69.1,995.8 81,976.6 89.6,975.4 102.4,979.6 113,957.4 123.7,948.9 133.1,927.6 155.7,1025.7 166.4,1087.6 177,1086.7 183.4,1068.4 196.2,1068.4 206.9,1053.4 217.6,1051.3 230.4,1039.4 241,1064.1 251.7,1051.3 270.9,983 281.6,961.7 294.4,923.3 313.6,833.7 324.2,791 334.9,806 345.6,889.2 357.5,1012.9 367.7,1040.6 388.2,942.5 398.9,927.6 410,860 421,868.7 432,856.4 451.5,947.6 463.8,1036.3 473.6,1073.2 484.5,1080.6 494.3,1074.7 503.2,1100.3 515.5,1096.9" fill="none" stroke="#e59d30" stroke-width="2.8" stroke-linejoin="round" stroke-linecap="round"/>
<polyline points="0,810.3 5.1,793.2 27.7,836.7 38.4,842.3 51.2,852.9 61.9,878.5 69.1,934 81,966 91.7,983 113,971.1 123.7,961.7 133.1,943.8 145,951 154.4,973.7 166.4,1027.8 177,1064.1 185.6,1081.2 198.4,1072.6 209,1064.1 219.7,1057.7 230.4,1049.2 241,1051.3 249.6,1052.2 260.2,1044.9 281.6,987.3 303.8,919 324.2,831.6 334.9,810.3 346.4,833.7 356.2,889.2 367.7,983 376.3,1016.3 388.2,992 409.6,910.6 431.7,861.3 441.6,881 451.5,900.7 461.3,962.4 473.6,1031.4 484.5,1061.9 495.8,1075.7 505.7,1085.6 515.5,1091.5" fill="none" stroke="#e8e8f0" stroke-width="2.8" stroke-linejoin="round" stroke-linecap="round"/>
<rect x="544.9" y="870.3" width="170.7" height="40.5" rx="9" fill="#2a3e66"/>
<text transform="translate(555.2,899.1) scale(0.94,1)" font-size="26.4" fill="#d6e2fa" stroke="#2a3e66" stroke-width="0.3">sobrevendido</text>
<g stroke="#e6e6ee" stroke-width="2.6" fill="none" stroke-linecap="round" stroke-linejoin="round"><line x1="590.4" y1="953.5" x2="526" y2="1069.5"/><polyline points="520.5,1050 526,1069.8 545,1064.9"/></g>
<rect x="492" y="663.2" width="47.8" height="36.4" rx="3" fill="#2a2a50"/>
<path d="M541.2,674 A27.1,27.1 0 1 1 524,657" fill="none" stroke="#9b3fcf" stroke-width="3.4" stroke-linecap="round"/>
<polygon points="522.2,667.7 504.3,683.6 515.2,683.6 506.8,697.2 508.4,698 527.5,681.7 516.6,681.7 524.4,669.1" fill="#bf50e0" stroke="#bf50e0" stroke-width="1.3" stroke-linejoin="round"/>
<circle cx="534.9" cy="663.6" r="6.8" fill="#e01a42"/>
<clipPath id="rc"><rect x="492" y="663.2" width="47.8" height="36.4"/></clipPath>
<circle cx="534.9" cy="663.6" r="6.8" fill="#f24a68" clip-path="url(#rc)"/>
</svg>
</body></html>
